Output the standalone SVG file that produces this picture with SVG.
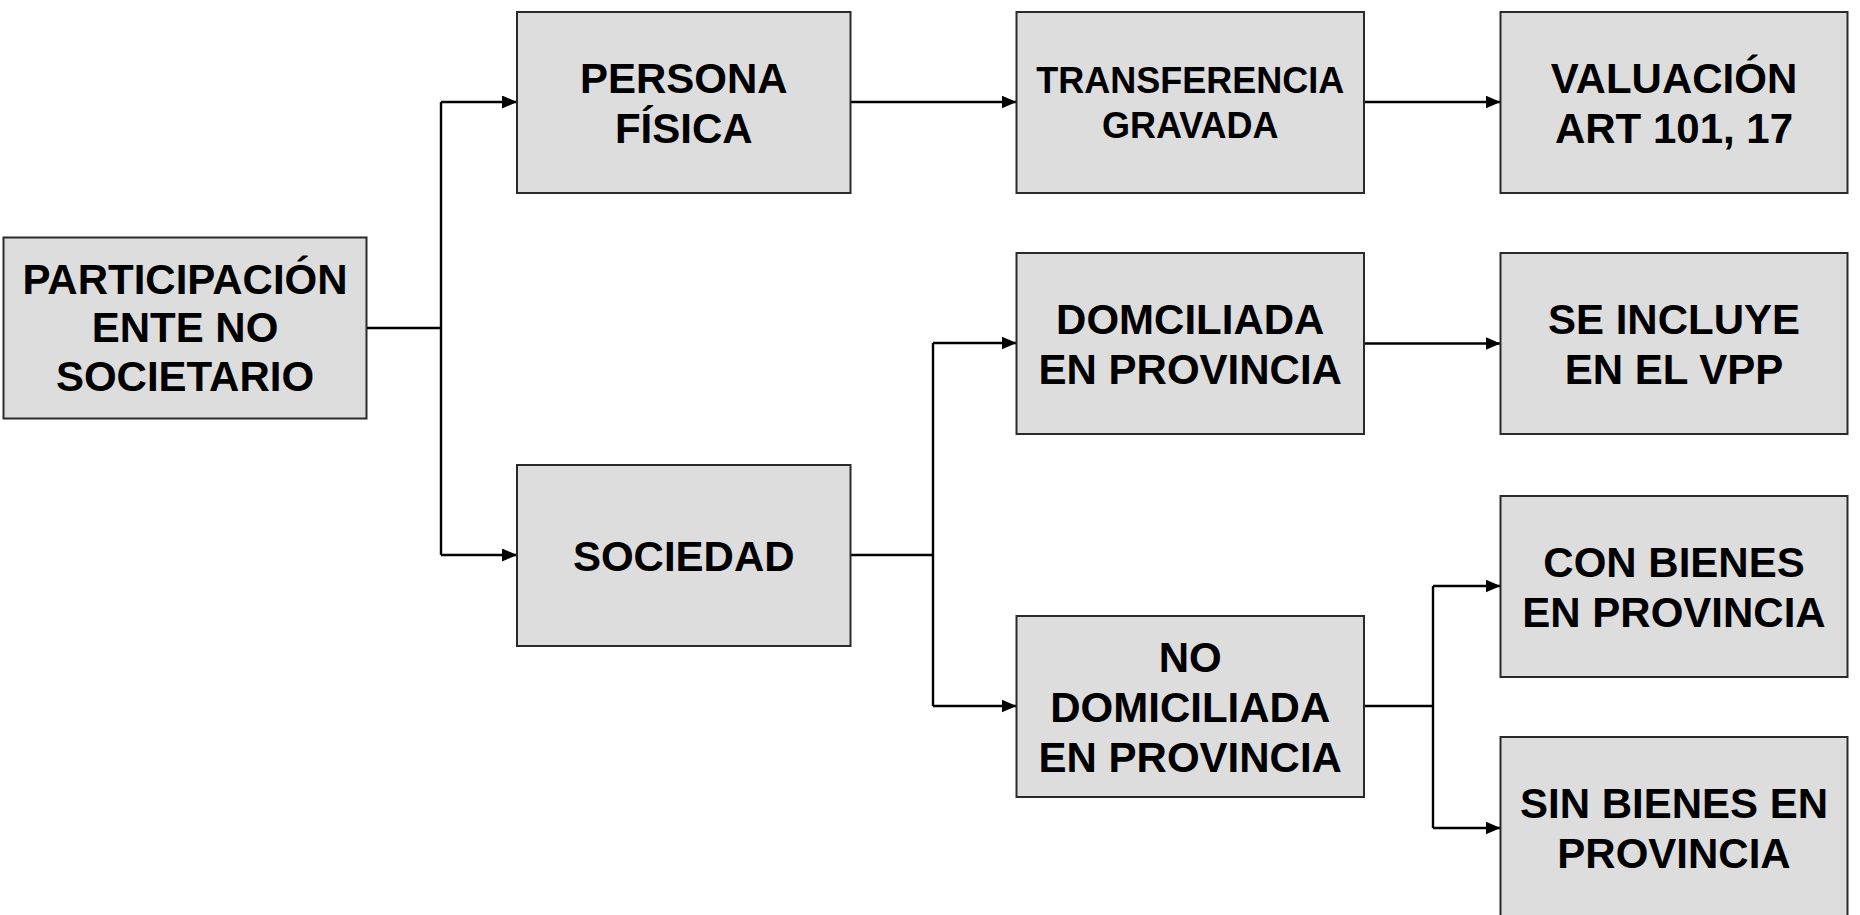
<svg xmlns="http://www.w3.org/2000/svg" width="1860" height="915" viewBox="0 0 1860 915">
<defs>
<marker id="arr" viewBox="0 0 15 13" markerWidth="15" markerHeight="13" refX="15" refY="6.5" orient="auto" markerUnits="userSpaceOnUse">
<path d="M0,0 L15,6.5 L0,13 z" fill="#000"/>
</marker>
<style>
.box{fill:#dddddd;stroke:#2a2a2a;stroke-width:2}
.t{font-family:"Liberation Sans",Arial,sans-serif;font-weight:bold;font-size:42px;fill:#000;text-anchor:middle}
.c{fill:none;stroke:#000;stroke-width:2.4}
</style>
</defs>
<rect width="1860" height="915" fill="#fff"/>
<g id="connectors">
<path class="c" d="M366.5,328 H441"/>
<path class="c" d="M441,102 V555"/>
<path class="c" d="M441,102 H517" marker-end="url(#arr)"/>
<path class="c" d="M441,555 H517" marker-end="url(#arr)"/>
<path class="c" d="M850.5,102 H1016.5" marker-end="url(#arr)"/>
<path class="c" d="M1364,102 H1500.5" marker-end="url(#arr)"/>
<path class="c" d="M850.5,555 H933"/>
<path class="c" d="M933,343 V706"/>
<path class="c" d="M933,343 H1016.5" marker-end="url(#arr)"/>
<path class="c" d="M933,706 H1016.5" marker-end="url(#arr)"/>
<path class="c" d="M1364,343.5 H1500.5" marker-end="url(#arr)"/>
<path class="c" d="M1364,706 H1433"/>
<path class="c" d="M1433,586 V828"/>
<path class="c" d="M1433,586 H1500.5" marker-end="url(#arr)"/>
<path class="c" d="M1433,828 H1500.5" marker-end="url(#arr)"/>
</g>
<g id="participacion">
<rect class="box" x="3.5" y="237.5" width="363" height="181"/>
<text class="t" x="185" y="293.5">PARTICIPACIÓN</text>
<text class="t" x="185" y="342">ENTE NO</text>
<text class="t" x="185" y="390.5">SOCIETARIO</text>
</g>
<g id="persona">
<rect class="box" x="517" y="12" width="333.5" height="181"/>
<text class="t" x="683.75" y="92.5">PERSONA</text>
<text class="t" x="683.75" y="142.5">FÍSICA</text>
</g>
<g id="sociedad">
<rect class="box" x="517" y="465" width="333.5" height="181"/>
<text class="t" x="683.75" y="570.5">SOCIEDAD</text>
</g>
<g id="transferencia">
<rect class="box" x="1016.5" y="12" width="347.5" height="181"/>
<text class="t" style="font-size:36px" x="1190.25" y="92.7">TRANSFERENCIA</text>
<text class="t" style="font-size:36px" x="1190.25" y="138.3">GRAVADA</text>
</g>
<g id="valuacion">
<rect class="box" x="1500.5" y="12" width="347" height="181"/>
<text class="t" x="1674" y="92.5">VALUACIÓN</text>
<text class="t" x="1674" y="142.5">ART 101, 17</text>
</g>
<g id="domiciliada">
<rect class="box" x="1016.5" y="253" width="347.5" height="181"/>
<text class="t" x="1190.25" y="333.5">DOMCILIADA</text>
<text class="t" x="1190.25" y="383.5">EN PROVINCIA</text>
</g>
<g id="se-incluye">
<rect class="box" x="1500.5" y="253" width="347" height="181"/>
<text class="t" x="1674" y="333.5">SE INCLUYE</text>
<text class="t" x="1674" y="383.5">EN EL VPP</text>
</g>
<g id="no-domiciliada">
<rect class="box" x="1016.5" y="616" width="347.5" height="181"/>
<text class="t" x="1190.25" y="671.5">NO</text>
<text class="t" x="1190.25" y="721.5">DOMICILIADA</text>
<text class="t" x="1190.25" y="771.5">EN PROVINCIA</text>
</g>
<g id="con-bienes">
<rect class="box" x="1500.5" y="496" width="347" height="181"/>
<text class="t" x="1674" y="576.5">CON BIENES</text>
<text class="t" x="1674" y="626.5">EN PROVINCIA</text>
</g>
<g id="sin-bienes">
<rect class="box" x="1500.5" y="737" width="347" height="181"/>
<text class="t" x="1674" y="817.5">SIN BIENES EN</text>
<text class="t" x="1674" y="867.5">PROVINCIA</text>
</g>
</svg>
